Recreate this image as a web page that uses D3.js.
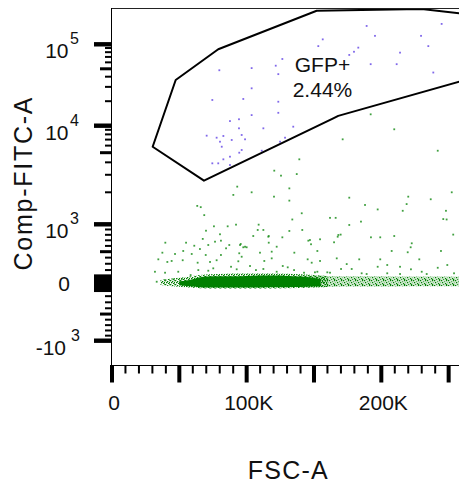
<!DOCTYPE html>
<html><head><meta charset="utf-8">
<script src="https://cdn.jsdelivr.net/npm/d3@7"></script>
<style>
html,body{margin:0;padding:0;background:#fff;}
svg{display:block;font-family:"Liberation Sans",Arial,Helvetica,sans-serif;}
</style></head><body>
<svg id="chart" width="459" height="489"></svg>
<script>
// ---------------- data (FSC-A in thousands, Comp-FITC-A in raw units) ----------------
const xLabelValues = [0, 100, 200];
const xLabelText = ["0", "100K", "200K"];
const xMajorTicks = [0, 50, 100, 150, 200, 250];

const yLabelValues = [-1000, 0, 1000, 10000, 100000];
const yLabelBase = ["-10", "0", "10", "10", "10"];
const yLabelExp = ["3", "", "3", "4", "5"];

// GFP+ gate polygon vertices
const gateFsc  = [30.2, 47.3, 78.9, 152.0, 230.0, 262.1, 262.1, 168.0, 164.3, 68.3];
const gateFitc = [5830, 36400, 86800, 258600, 271500, 235600, 36400, 13200, 12300, 2616];
const gateName = "GFP+";
const gatePct = "2.44%";
const gateLabelFsc = 156.3, gateLabelFitc = 46000;

// dense population band around zero
const bandFsc = [50, 55, 60, 65, 70, 80, 90, 100, 110, 120, 130, 140, 148, 155];
const bandHi  = [30, 40, 60, 85, 100, 105, 105, 110, 115, 115, 110, 100, 85, 65];
const bandLo  = [-30, -40, -50, -60, -65, -65, -62, -65, -62, -60, -60, -58, -50, -40];
// rough outer fringe of the band
const fringeFsc = [36, 45, 55, 65, 80, 100, 120, 140, 160];
const fringeHi  = [50, 70, 95, 125, 140, 145, 145, 135, 110];
const fringeLo  = [-25, -45, -60, -75, -80, -80, -78, -70, -55];
// sparser continuation of the band
const sparseFsc = [140, 160, 180, 200, 220, 240, 262.1];
const sparseHi  = [115, 110, 105, 105, 100, 100, 95];
const sparseLo  = [-60, -55, -50, -50, -45, -45, -45];

// GFP+ events (inside gate)
const gfpFsc = [189.1,195.3,244.8,229.5,156.5,153.2,182.9,179.7,176.2,213.9,234.9,126.5,121.6,192.1,211.4,103.7,123.5,238.6,103.7,97.5,123.5,103.7,123.5,87.6,94.3,94.3,112.4,134.6,96.3,98.8,88.9,128.5,124.8,96.3,94.5,111.2,87.6,79.7,74.5,70.3,77.7,82.7,80.2,81.5,74.5,78.9,82.7,87.6];
const gfpFitc = [168000,127000,178000,127000,115000,95000,91000,81000,74000,79000,95000,66000,54600,57000,57000,51000,43000,45000,28800,21300,19700,13500,14400,11400,12000,9350,9350,9750,7880,7050,6930,7350,6630,5360,5000,5260,3760,48000,20700,7740,7350,7680,6630,5830,3910,3910,4290,4560];

// other (GFP-) scattered events
const negFsc = [192.1,209.6,171.3,241.9,139.1,120.5,137.2,125.5,93.0,90.1,103.7,131.7,120.3,131.7,176.2,220.0,236.7,252.3,187.9,197.3,218.8,215.9,248.0,140.9,133.9,161.9,166.1,184.9,246.0,108.2,112.4,141.3,131.7,168.1,104.9,116.1,126.5,192.3,209.6,147.0,154.5,222.6,95.1,98.8,248.5,176.2,169.8,167.6,199.2,253.4,164.9,147.8,221.8,152.5,207.7,219.6,244.3,145.3,154.5,166.9,183.6,199.2,228.2,148.3,174.3,204.4,213.9,249.0,170.1,178.0,197.3,222.0,241.9,150.7,159.9,185.4,230.0,63.3,65.9,68.5,75.7,85.9,92.1,108.9,69.8,80.2,76.5,67.4,80.9,116.4,39.6,55.0,61.1,65.3,71.5,87.1,84.7,95.6,97.5,100.0,116.4,122.3,145.8,37.4,52.9,46.8,59.2,69.6,80.9,94.5,109.9,118.6,135.4,34.4,41.1,44.3,52.5,63.6,72.8,77.7,93.8,96.3,113.1,118.6,126.8,130.5,31.9,39.4,49.2,58.4,64.1,71.5,75.2,88.4,92.6,102.5,106.9,112.4,122.3,135.2,142.6,33.2,39.4,45.5,51.8,152.5,161.9,189.1,204.4,213.9,233.7,254.0];
const negFitc = [13800,9120,7050,5260,4290,3300,3050,2940,2280,1890,2000,2190,1820,1670,1780,1820,1720,2000,1520,1380,1550,1340,1340,1270,1110,1150,1150,1060,1120,891,891,891,872,797,778,765,754,754,778,705,718,646,616,586,1110,987,804,765,754,804,664,629,576,512,512,490,512,372,345,388,372,372,372,317,295,280,252,280,217,217,252,212,236,165,165,150,174,1490,1450,1220,961,961,993,993,877,810,675,725,693,778,657,657,603,546,616,616,558,634,576,576,657,586,693,483,512,461,461,444,444,473,483,500,483,372,329,345,357,317,329,357,340,415,345,388,264,243,174,159,174,123,200,190,227,252,212,264,200,217,174,200,159,23,48,59,59,174,159,139,150,139,139,150];

// ---------------- scales ----------------
const svg = d3.select("#chart");
const PL = 111, PT = 8, PB = 365, PR = 465;

const x = d3.scaleLinear().domain([0, 262.144]).range([112, 465]);
const yHi = d3.scaleLog().domain([1e3, 2e3, 5e3, 1e4, 1e5]).range([224.3, 192.3, 152.7, 125.7, 44.3]);
const yMid = d3.scaleSymlog().constant(3000).domain([-1000, 0, 1000]).range([340.7, 283.3, 224.3]);
const yNeg = d3.scaleLog().domain([1e3, 1e4]).range([340.7, 439.7]);
const y = v => v >= 1000 ? yHi(v) : (v <= -1000 ? yNeg(-v) : yMid(v));

// ---------------- defs ----------------
const defs = svg.append("defs");
defs.append("clipPath").attr("id", "clip").append("rect")
  .attr("x", PL + 1).attr("y", PT + 1).attr("width", PR - PL).attr("height", PB - PT - 1);
// speckle texture for the sparse band
const pat = defs.append("pattern").attr("id", "speckle").attr("patternUnits", "userSpaceOnUse")
  .attr("width", 7).attr("height", 5);
[[0,0,"#008000"],[3,1,"#5fb35f"],[5,0,"#008000"],[1,2,"#008000"],[4,3,"#008000"],[6,2,"#8fcf8f"],[2,4,"#3a9a3a"],[5,4,"#008000"]]
  .forEach(p => pat.append("rect").attr("x", p[0]).attr("y", p[1]).attr("width", 1.2).attr("height", 1.2).attr("fill", p[2]));
const pat2 = defs.append("pattern").attr("id", "speckle2").attr("patternUnits", "userSpaceOnUse")
  .attr("width", 5).attr("height", 4);
[[0,0,"#008000"],[2,1,"#008000"],[4,0,"#4aa84a"],[1,2,"#008000"],[3,3,"#008000"],[4,2,"#008000"]]
  .forEach(p => pat2.append("rect").attr("x", p[0]).attr("y", p[1]).attr("width", 1.3).attr("height", 1.3).attr("fill", p[2]));

const g = svg.append("g").attr("clip-path", "url(#clip)");
const areaGen = d3.area().x(d => x(d.f)).y0(d => y(d.lo)).y1(d => y(d.hi)).curve(d3.curveMonotoneX);

const sparse = sparseFsc.map((f, i) => ({f, hi: sparseHi[i], lo: sparseLo[i]}));
g.append("path").datum(sparse).attr("d", areaGen).attr("fill", "#008000").attr("fill-opacity", 0.18);
g.append("path").datum(sparse).attr("d", areaGen).attr("fill", "url(#speckle)");

const fringe = fringeFsc.map((f, i) => ({f, hi: fringeHi[i], lo: fringeLo[i]}));
g.append("path").datum(fringe).attr("d", areaGen).attr("fill", "url(#speckle2)");

const band = bandFsc.map((f, i) => ({f, hi: bandHi[i], lo: bandLo[i]}));
g.append("path").datum(band).attr("d", areaGen).attr("fill", "#008000");

const negPts = negFsc.map((f, i) => ({f, v: negFitc[i]}));
g.selectAll("rect.neg").data(negPts).join("rect").attr("class", "neg")
  .attr("x", d => x(d.f) - 0.9).attr("y", d => y(d.v) - 0.9)
  .attr("width", 1.8).attr("height", 1.8)
  .attr("fill", "#1f8f1f").attr("fill-opacity", 0.85);

const gfpPts = gfpFsc.map((f, i) => ({f, v: gfpFitc[i]}));
g.selectAll("rect.gfp").data(gfpPts).join("rect").attr("class", "gfp")
  .attr("x", d => x(d.f) - 0.9).attr("y", d => y(d.v) - 0.9)
  .attr("width", 1.8).attr("height", 1.8)
  .attr("fill", "#6a4ee6").attr("fill-opacity", 0.85);

const gate = gateFsc.map((f, i) => [x(f), y(gateFitc[i])]);
g.append("path").attr("d", d3.line().curve(d3.curveLinearClosed)(gate))
  .attr("fill", "none").attr("stroke", "#000").attr("stroke-width", 2)
  .attr("stroke-linejoin", "round");

const lab = svg.append("g").attr("font-size", 21).attr("fill", "#111").attr("text-anchor", "middle");
lab.append("text").attr("x", x(gateLabelFsc)).attr("y", y(gateLabelFitc)).text(gateName);
lab.append("text").attr("x", x(gateLabelFsc)).attr("y", y(gateLabelFitc) + 25).text(gatePct);

// ---------------- frame ----------------
svg.append("line").attr("x1", PL).attr("x2", PR).attr("y1", PT + 0.5).attr("y2", PT + 0.5)
  .attr("stroke", "#222").attr("stroke-width", 1);
svg.append("line").attr("x1", PL + 0.5).attr("x2", PL + 0.5).attr("y1", PT).attr("y2", PB + 1)
  .attr("stroke", "#000").attr("stroke-width", 1);
svg.append("line").attr("x1", PL).attr("x2", PR).attr("y1", PB + 0.5).attr("y2", PB + 0.5)
  .attr("stroke", "#000").attr("stroke-width", 1);

// ---------------- x axis ticks ----------------
const xMinor = d3.range(0, 261, 10).filter(v => v % 50 !== 0);
const ax = svg.append("g").attr("fill", "#000");
ax.selectAll("rect.xmin").data(xMinor).join("rect").attr("class", "xmin")
  .attr("x", d => x(d) - 1).attr("y", PB).attr("width", 2).attr("height", 8.5);
ax.selectAll("rect.xmaj").data(xMajorTicks).join("rect").attr("class", "xmaj")
  .attr("x", d => x(d) - 2).attr("y", PB).attr("width", 4).attr("height", 17.5);
ax.selectAll("text").data(xLabelValues).join("text")
  .attr("x", d => x(d) + 2).attr("y", 409.5).attr("text-anchor", "middle")
  .attr("font-size", 21).attr("fill", "#111")
  .text((d, i) => xLabelText[i]);

// ---------------- y axis ticks ----------------
const yMajor = [-1000, -100, -50, 0, 50, 100, 1000, 10000, 100000];
const yMedium = [-500, 500, 5000, 50000];
const yMinor = [];
[100, 200, 300, 400, 600, 700, 800, 900].forEach(v => { yMinor.push(v, -v); });
[1e3, 1e4].forEach(dec => [2, 3, 4, 6, 7, 8, 9].forEach(m => yMinor.push(m * dec)));
const yMinorF = yMinor.filter(v => Math.abs(v) > 100);
const ay = svg.append("g").attr("fill", "#000");
ay.selectAll("rect.ymin").data(yMinorF).join("rect").attr("class", "ymin")
  .attr("x", PL - 6).attr("y", d => y(d) - 1).attr("width", 6.5).attr("height", 2);
ay.selectAll("rect.ymed").data(yMedium).join("rect").attr("class", "ymed")
  .attr("x", PL - 11).attr("y", d => y(d) - 1.5).attr("width", 11.5).attr("height", 3);
ay.selectAll("rect.ymaj").data(yMajor).join("rect").attr("class", "ymaj")
  .attr("x", PL - 17).attr("y", d => y(d) - 2.2).attr("width", 17.5).attr("height", 4.4);

const yl = svg.append("g").attr("fill", "#111");
yLabelValues.forEach((v, i) => {
  const ty = y(v);
  if (yLabelExp[i] === "") {
    yl.append("text").attr("x", 70).attr("y", ty + 7.5).attr("text-anchor", "end")
      .attr("font-size", 21).text(yLabelBase[i]);
  } else {
    const neg = v < 0;
    yl.append("text").attr("x", neg ? 66 : 68.5).attr("y", ty + 14).attr("text-anchor", "end")
      .attr("font-size", 21).text(yLabelBase[i]);
    yl.append("text").attr("x", neg ? 71 : 70).attr("y", ty).attr("text-anchor", "start")
      .attr("font-size", 16).text(yLabelExp[i]);
  }
});

// ---------------- axis titles ----------------
svg.append("text").attr("x", 287.7).attr("y", 479.3).attr("text-anchor", "middle")
  .attr("font-size", 25).attr("fill", "#111")
  .attr("textLength", 80).attr("lengthAdjust", "spacing").text("FSC-A");
svg.append("text").attr("transform", "translate(32.3,184) rotate(-90)")
  .attr("text-anchor", "middle").attr("font-size", 25).attr("fill", "#111")
  .attr("textLength", 173).attr("lengthAdjust", "spacing").text("Comp-FITC-A");
</script>
</body></html>
